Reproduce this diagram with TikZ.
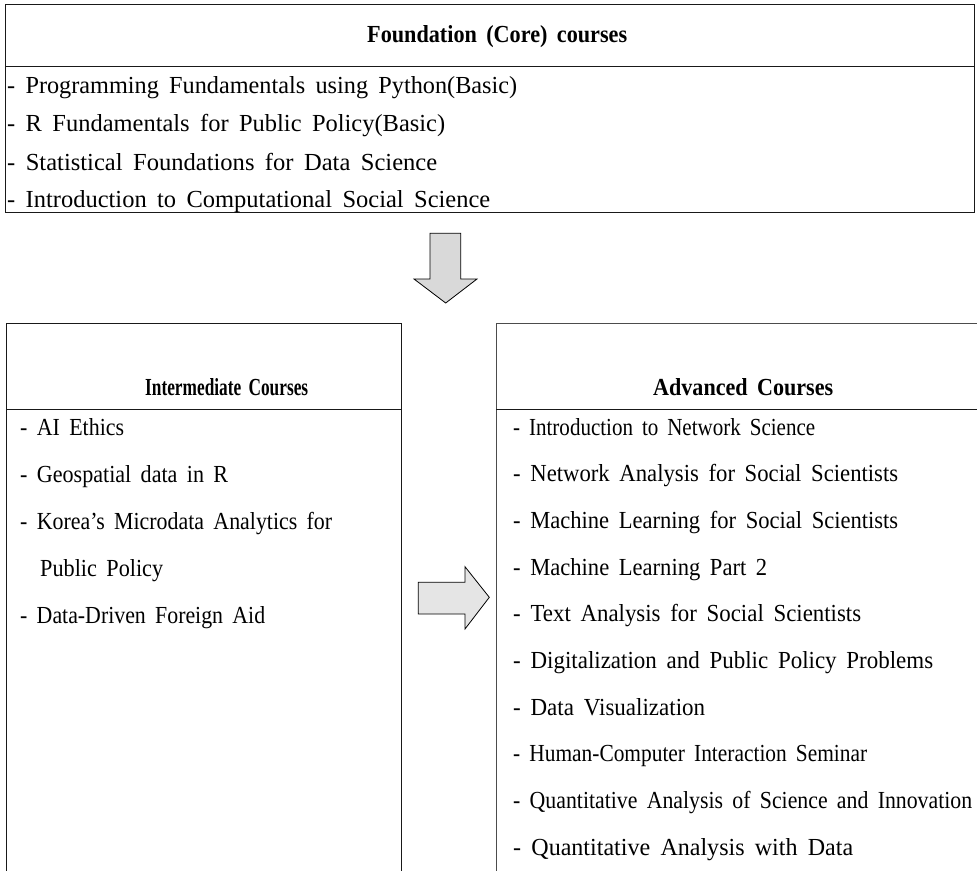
\documentclass[tikz,border=0pt]{standalone}
\usepackage{graphicx}
\usepackage{fontspec}
\setmainfont{Liberation Serif}[WordSpace=1.7]
\newcommand{\fitw}[2]{\resizebox{#1}{\height}{#2}}
\begin{document}
\begin{tikzpicture}[x=1pt,y=-1pt,
  item/.style={anchor=base west,inner sep=0pt,font=\fontsize{24.5}{29}\selectfont},
  ttl/.style={anchor=base west,inner sep=0pt,font=\bfseries\fontsize{24.5}{29}\selectfont},
  boxline/.style={draw=black!90,line width=1pt},
  blockarrow/.style={draw=black,line width=0.8pt,line join=miter}]
\useasboundingbox (0,0) rectangle (977,870);
\clip (0,0) rectangle (977,870);
\fill[white] (0,0) rectangle (977,870);
% Foundation box
\draw[boxline] (5,4) rectangle (974,212);
\draw[boxline] (5,66) -- (974,66);
\node[ttl] (ftitle) at (367,42.7) {\fitw{260pt}{Foundation (Core) courses}};
\node[item] (f1) at (7,93.3) {\fitw{510pt}{- Programming Fundamentals using Python(Basic)}};
\node[item] (f2) at (7,131.7) {\fitw{438pt}{- R Fundamentals for Public Policy(Basic)}};
\node[item] (f3) at (7,170) {\fitw{430pt}{- Statistical Foundations for Data Science}};
\node[item] (f4) at (7,207) {\fitw{483pt}{- Introduction to Computational Social Science}};
% down arrow
\draw[blockarrow,fill=gray!30] (430,233.3) -- (460.7,233.3) -- (460.7,279) -- (477,279) -- (445.7,303) -- (414,279) -- (430,279) -- cycle;
% Intermediate box
\draw[boxline] (6,880) -- (6,323) -- (401,323) -- (401,880);
\draw[boxline] (6,409) -- (401,409);
\node[ttl] (ititle) at (145,395) {\fitw{163pt}{Intermediate Courses}};
\node[item] (i1) at (20,435) {\fitw{104pt}{- AI Ethics}};
\node[item] (i2) at (20,482) {\fitw{208pt}{- Geospatial data in R}};
\node[item] (i3) at (20,529) {\fitw{312pt}{- Korea’s Microdata Analytics for}};
\node[item] (i3b) at (40,576) {\fitw{123pt}{Public Policy}};
\node[item] (i4) at (20,623) {\fitw{245pt}{- Data-Driven Foreign Aid}};
% right arrow
\draw[blockarrow,fill=gray!20] (418.3,582.3) -- (465,582.3) -- (465,566.7) -- (489.3,597.3) -- (465,629) -- (465,614) -- (418.3,614) -- cycle;
% Advanced box
\draw[boxline,draw=black!70] (496,880) -- (496,323) -- (990,323);
\draw[boxline] (496,409) -- (990,409);
\node[ttl] (atitle) at (653,395) {\fitw{180pt}{Advanced Courses}};
\node[item] (a1) at (513,435) {\fitw{302pt}{- Introduction to Network Science}};
\node[item] (a2) at (513,481.7) {\fitw{385pt}{- Network Analysis for Social Scientists}};
\node[item] (a3) at (513,528.3) {\fitw{385pt}{- Machine Learning for Social Scientists}};
\node[item] (a4) at (513,575) {\fitw{254pt}{- Machine Learning Part 2}};
\node[item] (a5) at (513,621.7) {\fitw{348pt}{- Text Analysis for Social Scientists}};
\node[item] (a6) at (513,668.3) {\fitw{420pt}{- Digitalization and Public Policy Problems}};
\node[item] (a7) at (513,715) {\fitw{192pt}{- Data Visualization}};
\node[item] (a8) at (513,761.7) {\fitw{354pt}{- Human-Computer Interaction Seminar}};
\node[item] (a9) at (513,808.3) {\fitw{459pt}{- Quantitative Analysis of Science and Innovation}};
\node[item] (a10) at (513,855) {\fitw{340pt}{- Quantitative Analysis with Data}};
\end{tikzpicture}
\end{document}
